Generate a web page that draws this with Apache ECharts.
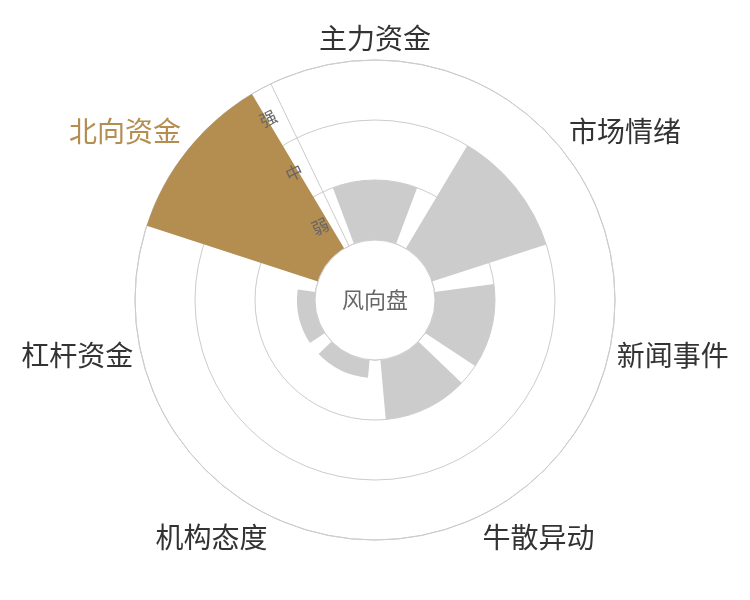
<!DOCTYPE html>
<html>
<head>
<meta charset="utf-8">
<script src="https://cdn.jsdelivr.net/npm/echarts@6/dist/echarts.min.js"></script>
<style>
html,body{margin:0;padding:0;background:#fff;}
#chart{width:750px;height:600px;}
</style>
</head>
<body>
<div id="chart"></div>
<script>
// ---- data ----
const categories = ['主力资金', '市场情绪', '新闻事件', '牛散异动', '机构态度', '杠杆资金', '北向资金'];
const values = [1, 2, 1, 1, 0.3, 0.3, 3];
const levelLabels = ['弱', '中', '强'];
const levelPositions = [0.5, 1.5, 2.5];
const highlightName = '北向资金';
const centerTitle = '风向盘';

// ---- styles ----
const GOLD = '#b48e51';
const GREY = '#cccccc';
const LINE = '#cccccc';
const FONT = '"Noto Sans CJK SC", "Noto Sans", sans-serif';
const startAngle = 90 + 180 / categories.length;

const chart = echarts.init(document.getElementById('chart'), null, {renderer: 'canvas'});

const option = {
  backgroundColor: '#fff',
  animation: false,
  textStyle: {fontFamily: FONT},
  polar: [
    {center: ['50%', '50%'], radius: [60, 240]},
    {center: ['50%', '50%'], radius: [60, 240]}
  ],
  angleAxis: [
    {
      polarIndex: 0,
      type: 'category',
      data: categories.map(function (c) {
        return c === highlightName ? {value: c, textStyle: {color: GOLD}} : c;
      }),
      startAngle: startAngle,
      clockwise: true,
      boundaryGap: true,
      axisLine: {show: true, lineStyle: {color: LINE, width: 1}},
      axisTick: {show: false},
      splitLine: {show: false},
      axisLabel: {
        show: true,
        fontSize: 28,
        margin: 8,
        fontFamily: FONT,
        color: '#333333'
      }
    },
    {
      polarIndex: 1,
      type: 'category',
      data: categories,
      startAngle: startAngle,
      clockwise: true,
      show: false
    }
  ],
  radiusAxis: [
    {
      polarIndex: 0,
      type: 'value',
      min: 0,
      max: levelLabels.length,
      interval: 1,
      axisLine: {show: false},
      axisTick: {show: false},
      axisLabel: {show: false},
      splitLine: {show: true, lineStyle: {color: LINE, width: 1}}
    },
    {
      polarIndex: 1,
      type: 'value',
      min: 0,
      max: levelLabels.length,
      interval: 1,
      z: 10,
      axisLine: {show: true, lineStyle: {color: LINE, width: 1}},
      axisTick: {show: false},
      splitLine: {show: false},
      axisLabel: {
        show: true,
        customValues: levelPositions,
        rotate: startAngle - 90,
        fontSize: 17,
        margin: 9,
        color: '#666666',
        fontFamily: FONT,
        formatter: function (v) {
          const i = Math.floor(v);
          return levelLabels[i] || '';
        }
      }
    }
  ],
  series: [
    {
      type: 'bar',
      coordinateSystem: 'polar',
      polarIndex: 0,
      barCategoryGap: '20%',
      silent: true,
      z: 2,
      data: values.map(function (v, i) {
        return {
          value: v,
          itemStyle: {color: categories[i] === highlightName ? GOLD : GREY}
        };
      })
    },
    {
      type: 'pie',
      center: ['50%', '50%'],
      radius: [0, 60],
      silent: true,
      z: 3,
      startAngle: 90,
      itemStyle: {color: '#ffffff', borderColor: '#cccccc', borderWidth: 1},
      label: {
        show: true,
        position: 'center',
        formatter: centerTitle,
        fontSize: 22,
        color: '#666666',
        fontFamily: FONT
      },
      labelLine: {show: false},
      emphasis: {disabled: true},
      data: [{value: 1, name: centerTitle}]
    }
  ]
};

chart.setOption(option);
</script>
</body>
</html>
